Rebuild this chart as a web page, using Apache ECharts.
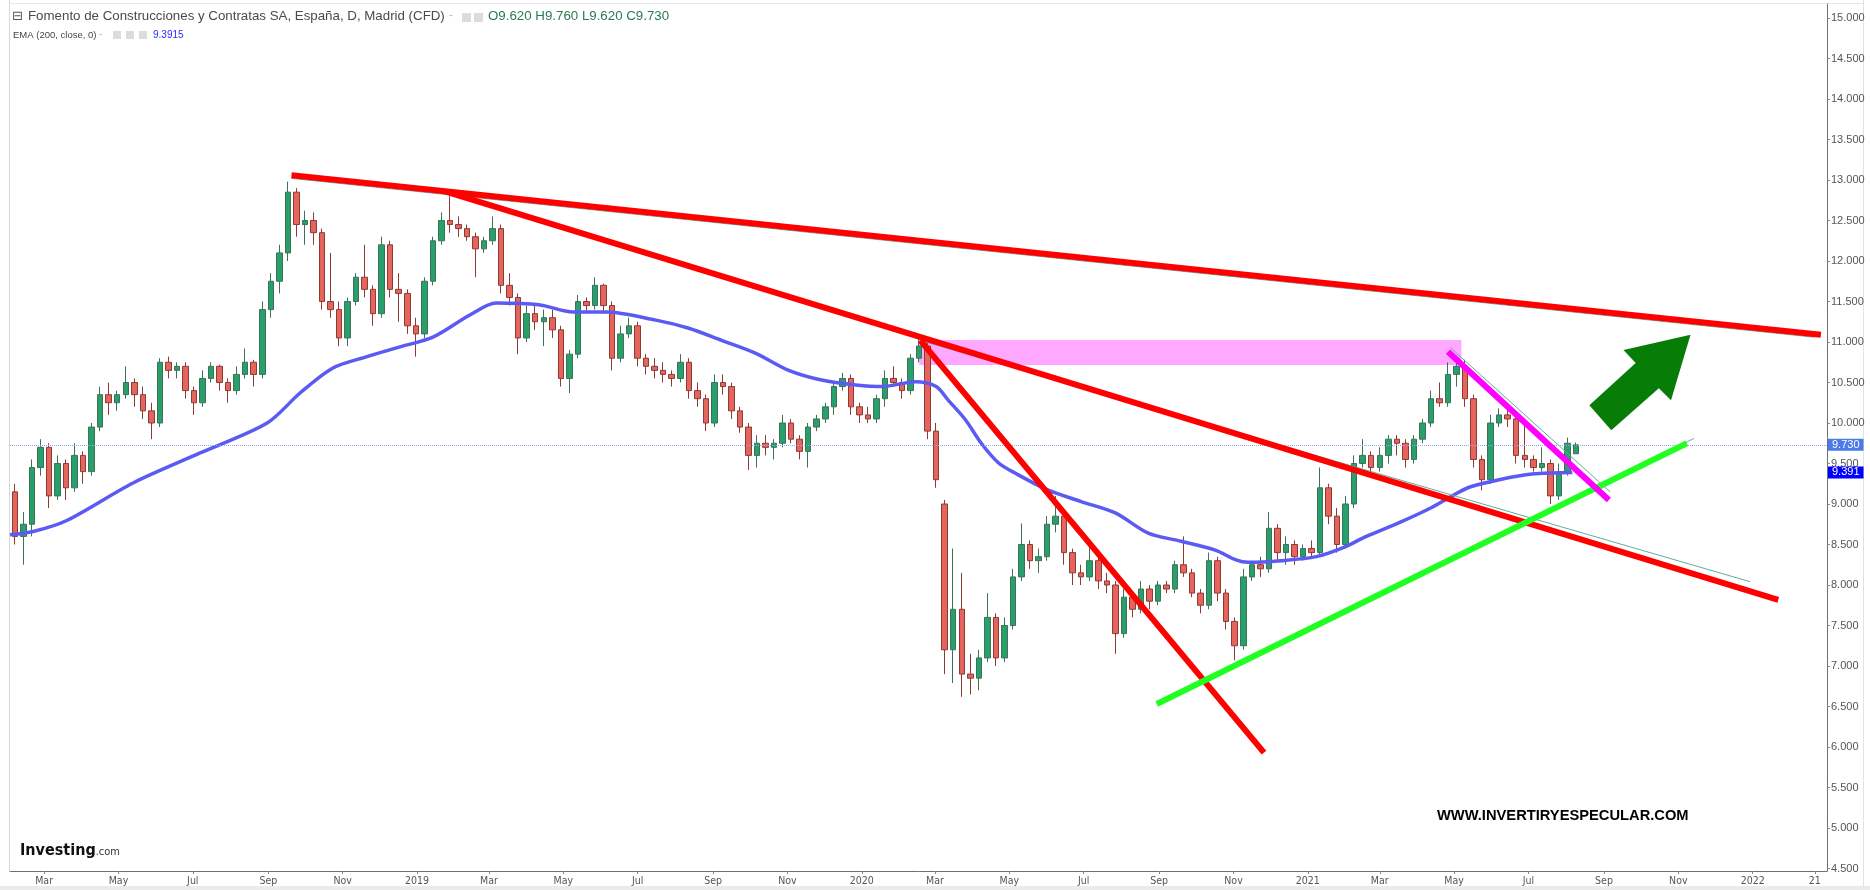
<!DOCTYPE html>
<html>
<head>
<meta charset="utf-8">
<script src="https://cdn.jsdelivr.net/npm/echarts@6.0.0/dist/echarts.min.js"></script>
<style>
html,body{margin:0;padding:0;background:#fff;}
#chart{width:1870px;height:890px;}
</style>
</head>
<body>
<div id="chart"></div>
<script>
// ---------------- DATA ----------------
const firstWeek = '2018-02-05';
const opens  = [9.15,8.6,8.75,9.45,9.7,9.1,9.5,9.2,9.6,9.4,9.95,10.35,10.25,10.35,10.5,10.35,10.15,10.0,10.75,10.65,10.7,10.4,10.25,10.55,10.7,10.5,10.4,10.6,10.75,10.6,11.4,11.75,12.1,12.85,12.45,12.5,12.35,11.5,11.4,11.05,11.5,11.8,11.65,11.35,12.2,11.65,11.6,11.2,11.1,11.75,12.25,12.5,12.45,12.4,12.3,12.15,12.25,12.4,11.7,11.55,11.05,11.35,11.25,11.3,11.15,10.55,10.85,11.5,11.45,11.7,11.45,10.8,11.1,11.2,10.8,10.7,10.65,10.6,10.55,10.75,10.4,10.3,10.0,10.5,10.45,10.15,9.95,9.6,9.75,9.7,9.75,10.0,9.8,9.65,9.95,10.05,10.2,10.45,10.55,10.2,10.1,10.05,10.3,10.55,10.5,10.4,10.8,10.95,9.9,9.0,7.2,7.7,6.9,6.85,7.1,7.6,7.1,7.5,8.1,8.5,8.3,8.35,8.75,8.85,8.4,8.15,8.1,8.3,8.05,8.0,7.4,7.85,7.7,7.95,7.8,8.0,7.95,8.25,8.15,7.9,7.75,8.3,7.9,7.55,7.25,8.1,8.25,8.2,8.7,8.4,8.5,8.35,8.45,8.4,9.2,8.85,8.5,9.0,9.5,9.6,9.45,9.6,9.8,9.75,9.55,9.8,10.0,10.3,10.25,10.6,10.7,10.3,9.55,9.3,10.0,10.1,10.05,9.6,9.55,9.45,9.5,9.1,9.4,9.62];
const highs  = [9.25,8.9,9.55,9.8,9.75,9.6,9.55,9.75,9.65,10.0,10.45,10.5,10.4,10.7,10.55,10.45,10.25,10.8,10.82,10.75,10.75,10.45,10.65,10.75,10.72,10.55,10.7,10.92,10.78,11.5,11.85,12.2,12.98,12.9,12.62,12.6,12.4,12.1,11.5,11.55,11.85,12.2,11.7,12.3,12.25,11.85,11.65,11.3,11.8,12.3,12.6,12.8,12.55,12.45,12.35,12.3,12.55,12.45,11.85,11.6,11.45,11.45,11.4,11.4,11.2,10.9,11.58,11.55,11.8,11.72,11.5,11.2,11.3,11.25,10.85,10.8,10.75,10.65,10.85,10.8,10.5,10.35,10.6,10.6,10.5,10.2,10.0,9.85,9.85,9.8,10.1,10.05,9.85,10.0,10.1,10.25,10.5,10.62,10.6,10.25,10.2,10.35,10.65,10.7,10.55,10.85,11.05,11.0,10.0,9.05,8.45,8.15,7.15,7.2,7.9,7.65,7.6,8.2,8.76,8.55,8.45,8.85,9.1,8.9,8.45,8.25,8.5,8.35,8.15,8.05,7.95,7.9,8.05,8.0,8.05,8.05,8.3,8.6,8.2,7.95,8.4,8.35,7.95,7.6,8.2,8.3,8.35,8.9,8.75,8.6,8.55,8.5,8.55,9.45,9.25,8.95,9.1,9.6,9.8,9.65,9.7,9.85,9.85,9.8,9.85,10.05,10.4,10.5,10.75,10.8,10.78,10.35,9.6,10.1,10.18,10.2,10.1,10.05,9.6,9.7,9.55,9.5,9.82,9.76];
const lows   = [8.5,8.25,8.6,9.35,8.95,9.05,9.05,9.15,9.25,9.35,9.9,10.1,10.15,10.3,10.2,10.05,9.8,9.95,10.55,10.55,10.3,10.1,10.2,10.5,10.4,10.25,10.35,10.55,10.45,10.55,11.3,11.6,12.0,12.3,12.2,12.2,11.4,11.3,10.95,10.95,11.45,11.55,11.2,11.3,11.55,11.25,11.1,10.82,11.05,11.7,12.2,12.35,12.3,12.25,11.8,12.1,12.2,11.6,11.45,10.85,11.0,11.15,10.95,11.05,10.45,10.37,10.8,11.35,11.4,11.35,10.65,10.75,11.05,10.7,10.6,10.55,10.5,10.45,10.5,10.3,10.2,9.9,9.95,10.35,10.05,9.88,9.42,9.45,9.6,9.55,9.7,9.75,9.55,9.45,9.9,10.0,10.1,10.4,10.1,10.0,10.0,10.0,10.2,10.45,10.3,10.35,10.75,9.8,9.2,6.9,6.79,6.62,6.65,6.7,7.05,7.0,7.05,7.45,8.05,8.2,8.15,8.3,8.65,8.25,8.0,8.0,8.05,7.95,7.9,7.15,7.35,7.6,7.65,7.7,7.75,7.9,7.9,8.1,7.85,7.65,7.7,7.8,7.45,7.07,7.2,8.05,8.1,8.15,8.3,8.25,8.25,8.3,8.35,8.35,8.75,8.4,8.45,8.95,9.45,9.35,9.4,9.5,9.6,9.45,9.5,9.75,9.95,10.2,10.2,10.45,10.2,9.45,9.17,9.25,9.95,9.95,9.5,9.45,9.4,9.4,9.0,9.05,9.35,9.62];
const closes = [8.6,8.75,9.45,9.7,9.1,9.5,9.2,9.6,9.4,9.95,10.35,10.25,10.35,10.5,10.35,10.15,10.0,10.75,10.65,10.7,10.4,10.25,10.55,10.7,10.5,10.4,10.6,10.75,10.6,11.4,11.75,12.1,12.85,12.45,12.5,12.35,11.5,11.4,11.05,11.5,11.8,11.65,11.35,12.2,11.65,11.6,11.2,11.1,11.75,12.25,12.5,12.45,12.4,12.3,12.15,12.25,12.4,11.7,11.55,11.05,11.35,11.25,11.3,11.15,10.55,10.85,11.5,11.45,11.7,11.45,10.8,11.1,11.2,10.8,10.7,10.65,10.6,10.55,10.75,10.4,10.3,10.0,10.5,10.45,10.15,9.95,9.6,9.75,9.7,9.75,10.0,9.8,9.65,9.95,10.05,10.2,10.45,10.55,10.2,10.1,10.05,10.3,10.55,10.5,10.4,10.8,10.95,9.9,9.3,7.2,7.7,6.9,6.85,7.1,7.6,7.1,7.5,8.1,8.5,8.3,8.35,8.75,8.85,8.4,8.15,8.1,8.3,8.05,8.0,7.4,7.85,7.7,7.95,7.8,8.0,7.95,8.25,8.15,7.9,7.75,8.3,7.9,7.55,7.25,8.1,8.25,8.2,8.7,8.4,8.5,8.35,8.45,8.4,9.2,8.85,8.5,9.0,9.5,9.6,9.45,9.6,9.8,9.75,9.55,9.8,10.0,10.3,10.25,10.6,10.7,10.3,9.55,9.3,10.0,10.1,10.05,9.6,9.55,9.45,9.5,9.1,9.4,9.75,9.73];

const emaDates = ['2018-02-01','2018-02-20','2018-03-20','2018-05-13','2018-07-07','2018-08-31','2018-09-27','2018-10-24','2018-11-21','2018-12-18','2019-01-14','2019-02-13','2019-03-07','2019-04-11','2019-05-09','2019-06-05','2019-07-16','2019-08-12','2019-09-08','2019-10-06','2019-11-02','2019-11-29','2019-12-27','2020-01-18','2020-02-14','2020-03-02','2020-03-12','2020-03-26','2020-04-08','2020-04-22','2020-05-06','2020-06-02','2020-06-29','2020-07-27','2020-08-23','2020-09-19','2020-10-17','2020-11-03','2020-11-13','2020-12-10','2021-01-08','2021-01-30','2021-02-18','2021-03-17','2021-04-13','2021-05-03','2021-05-14','2021-06-07','2021-07-04','2021-08-06'];
const emaValues = [8.62,8.66,8.80,9.26,9.63,10.0,10.37,10.68,10.82,10.94,11.06,11.33,11.48,11.46,11.37,11.37,11.27,11.17,11.02,10.86,10.65,10.53,10.47,10.45,10.51,10.45,10.28,10.04,9.75,9.51,9.38,9.17,9.03,8.89,8.64,8.54,8.43,8.31,8.28,8.30,8.35,8.46,8.60,8.77,8.96,9.13,9.21,9.30,9.37,9.39];

const redLineA   = [['2018-09-20',13.06],['2022-02-26',11.09]];
const tealLineA  = [['2018-09-20',13.02],['2022-02-20',11.06]];
const redLineB   = [['2019-01-24',12.86],['2022-01-22',7.815]];
const tealLineB  = [['2020-02-20',11.01],['2021-12-30',8.04]];
const redLineC   = [['2020-02-18',11.02],['2020-11-26',5.93]];
const greenLine  = [['2020-08-30',6.53],['2021-11-08',9.75]];
const tealLineG  = [['2020-08-30',6.55],['2021-11-14',9.81]];
const magentaLine= [['2021-04-26',10.88],['2021-09-05',9.05]];
const tealLineM  = [['2021-04-28',10.93],['2021-09-06',9.15]];
const zoneFrom = ['2020-02-17', 11.025];
const zoneTo   = ['2021-05-07', 10.716];
const arrowDates  = ['2021-08-20','2021-09-27','2021-09-17','2021-11-11','2021-10-26','2021-10-16','2021-09-07'];
const arrowPrices = [10.22,10.74,10.90,11.09,10.28,10.43,9.91];

const lastPrice = 9.73;
const lastEma = 9.391;

const tickDates  = ['2018-03-01','2018-05-01','2018-07-01','2018-09-01','2018-11-01','2019-01-01','2019-03-01','2019-05-01','2019-07-01','2019-09-01','2019-11-01','2020-01-01','2020-03-01','2020-05-01','2020-07-01','2020-09-01','2020-11-01','2021-01-01','2021-03-01','2021-05-01','2021-07-01','2021-09-01','2021-11-01','2022-01-01','2022-02-21'];
const tickLabels = ['Mar','May','Jul','Sep','Nov','2019','Mar','May','Jul','Sep','Nov','2020','Mar','May','Jul','Sep','Nov','2021','Mar','May','Jul','Sep','Nov','2022','21'];
const priceTicks = [4.5,5,5.5,6,6.5,7,7.5,8,8.5,9,9.5,10,10.5,11,11.5,12,12.5,13,13.5,14,14.5,15];

// ---------------- BUILD ----------------
function ts(d){ return Date.UTC(+d.slice(0,4), +d.slice(5,7)-1, +d.slice(8,10)); }
const DAY = 86400000;
const candleData = opens.map((o,i)=>[ts(firstWeek) + i*7*DAY, o, closes[i], lows[i], highs[i]]);
const emaData = emaDates.map((d,i)=>[ts(d), emaValues[i]]);
const toPts = arr => arr.map(p=>[ts(p[0]), p[1]]);
const tickTs = tickDates.map(ts);

function lineSeries(data, color, width, z){
  return {type:'line', data: toPts(data), symbol:'none', silent:true, z:z,
    lineStyle:{color:color, width:width}, clip:false, animation:false};
}

const chart = echarts.init(document.getElementById('chart'), null, {renderer:'canvas'});
const option = {
  animation:false,
  backgroundColor:'#ffffff',
  grid:{left:10, right:43, top:4, bottom:19},
  xAxis:{
    type:'value', min: ts('2018-02-01'), max: ts('2022-03-03'),
    axisLine:{show:true, onZero:false, lineStyle:{color:'#6f6f6f', width:1}},
    axisTick:{show:true, customValues: tickTs, length:3, lineStyle:{color:'#888'}},
    axisLabel:{show:true, customValues: tickTs, color:'#555', fontSize:10.5,
      fontFamily:'DejaVu Sans Condensed, Liberation Sans, sans-serif', margin:5,
      formatter:(v)=>{ let best=0, bd=1e18; tickTs.forEach((t,i)=>{const d=Math.abs(t-v); if(d<bd){bd=d;best=i;}}); return tickLabels[best]; }},
    splitLine:{show:false}
  },
  yAxis:{
    type:'value', position:'right', min:4.469, max:15.173,
    axisLine:{show:true, onZero:false, lineStyle:{color:'#6f6f6f', width:1}},
    axisTick:{show:true, customValues: priceTicks, length:3, lineStyle:{color:'#888'}},
    axisLabel:{show:true, customValues: priceTicks, color:'#555', fontSize:11, margin:4,
      fontFamily:'Liberation Sans, Arial, sans-serif', formatter:(v)=>v.toFixed(3)},
    splitLine:{show:false}
  },
  series:[
    {type:'line', data:[], silent:true, z:1,
      markArea:{silent:true, itemStyle:{color:'#ffa8ff', opacity:1},
        data:[[{xAxis: ts(zoneFrom[0]), yAxis: zoneFrom[1]}, {xAxis: ts(zoneTo[0]), yAxis: zoneTo[1]}]]}},
    {type:'candlestick', data: candleData, z:2, barWidth:6, silent:true,
      itemStyle:{color:'#27a06c', color0:'#e5645c', borderColor:'#3f7058', borderColor0:'#8c3a36', borderWidth:1},
      markLine:{silent:true, symbol:['none','none'], animation:false,
        lineStyle:{color:'#8ea6f2', type:'dotted', width:1},
        label:{show:true, position:'end', distance:1, formatter: lastPrice.toFixed(3), color:'#fff',
          backgroundColor:'#4a7be6', padding:[1,4,0,4], fontSize:11, fontFamily:'Liberation Sans, Arial'},
        data:[{yAxis: lastPrice}]}},
    {type:'line', data: emaData, symbol:'none', smooth:0.3, silent:true, z:3,
      lineStyle:{color:'#5b5bf3', width:3.5}},
    {type:'line', data:[], silent:true, z:8,
      markLine:{silent:true, symbol:['none','none'], animation:false,
        lineStyle:{color:'rgba(255,255,255,0)', width:1, type:'solid'},
        label:{show:true, position:'end', distance:1, formatter: lastEma.toFixed(3), color:'#fff',
          backgroundColor:'#0000ff', padding:[1,4,0,4], fontSize:11, fontFamily:'Liberation Sans, Arial'},
        data:[{yAxis: lastEma}]}},
    lineSeries(tealLineA, '#5fae9f', 1, 4),
    lineSeries(tealLineB, '#5fae9f', 1, 4),
    lineSeries(tealLineG, '#5fae9f', 1, 4),
    lineSeries(tealLineM, '#5fae9f', 1, 4),
    lineSeries(redLineA, '#ff0000', 6, 5),
    lineSeries(redLineB, '#ff0000', 6, 5),
    lineSeries(redLineC, '#ff0000', 6, 5),
    lineSeries(greenLine, '#22ff22', 6, 5),
    lineSeries(magentaLine, '#ff00ff', 6, 6),
    {type:'custom', z:7, silent:true, clip:false,
      data: arrowDates.map((d,i)=>[ts(d), arrowPrices[i]]),
      encode:{x:0, y:1},
      renderItem:(params, api)=>{
        if(params.dataIndex!==0) return null;
        const pts = arrowDates.map((d,i)=>api.coord([ts(d), arrowPrices[i]]));
        return {type:'polygon', shape:{points:pts}, style:{fill:'#077d07'}};
      }}
  ],
  graphic:[
    {type:'rect', shape:{x:0,y:886,width:1870,height:4}, style:{fill:'#ebebeb'}, silent:true},
    {type:'line', shape:{x1:9.5,y1:0,x2:9.5,y2:871}, style:{stroke:'#d8d8d8', lineWidth:1}, silent:true},
    {type:'line', shape:{x1:10,y1:3.5,x2:1863,y2:3.5}, style:{stroke:'#e6e6e6', lineWidth:1}, silent:true},
    {type:'line', shape:{x1:1863.5,y1:0,x2:1863.5,y2:886}, style:{stroke:'#e2e2e2', lineWidth:1}, silent:true},
    {type:'text', left:12, top:10, style:{text:'⊟', fill:'#555', font:'13px DejaVu Sans'}},
    {type:'text', left:28, top:10, style:{text:'Fomento de Construcciones y Contratas SA, España, D, Madrid (CFD)', fill:'#4a4a4a', font:'13.3px Liberation Sans'}},
    {type:'text', left:449, top:10, style:{text:'-', fill:'#bbb', font:'12px Liberation Sans'}},
    {type:'rect', shape:{x:462,y:13,width:9,height:9}, style:{fill:'#dcdcdc'}},
    {type:'rect', shape:{x:474,y:13,width:9,height:9}, style:{fill:'#dcdcdc'}},
    {type:'text', left:488, top:10, style:{text:'O9.620 H9.760 L9.620 C9.730', fill:'#2b7a50', font:'13.3px Liberation Sans'}},
    {type:'text', left:13, top:30, style:{text:'EMA (200, close, 0)', fill:'#444', font:'9.5px Liberation Sans'}},
    {type:'text', left:99, top:29, style:{text:'-', fill:'#bbb', font:'10px Liberation Sans'}},
    {type:'rect', shape:{x:113,y:31,width:8,height:8}, style:{fill:'#dcdcdc'}},
    {type:'rect', shape:{x:126,y:31,width:8,height:8}, style:{fill:'#dcdcdc'}},
    {type:'rect', shape:{x:139,y:31,width:8,height:8}, style:{fill:'#dcdcdc'}},
    {type:'text', left:153, top:30, style:{text:'9.3915', fill:'#2a2aff', font:'10px Liberation Sans'}},
    {type:'text', left:1437, top:808, style:{text:'WWW.INVERTIRYESPECULAR.COM', fill:'#000', font:'bold 14.7px Liberation Sans'}},
    {type:'text', left:20, top:843, style:{
      text:'{a|Investing}{b|.com}',
      rich:{a:{font:'bold 16px DejaVu Sans Condensed', fill:'#111'}, b:{font:'11px DejaVu Sans Condensed', fill:'#333', padding:[3,0,0,0]}}}}
  ]
};
chart.setOption(option);
</script>
</body>
</html>
